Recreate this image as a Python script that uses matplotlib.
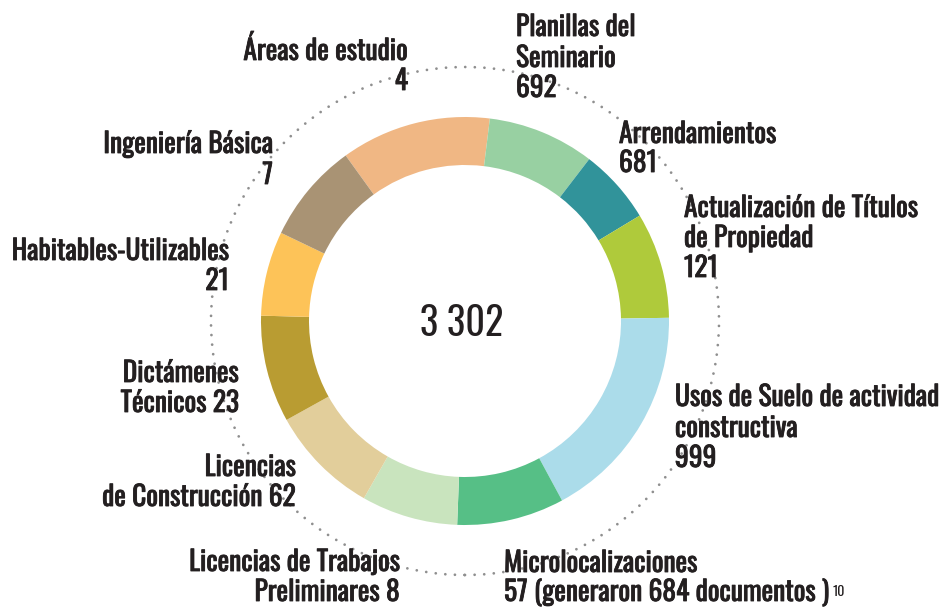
import matplotlib
matplotlib.use("Agg")
import matplotlib.pyplot as plt
from matplotlib import font_manager as fm
from matplotlib import patheffects as pe
from matplotlib.patches import Circle

W, H = 942, 607

# segment order, clockwise from the top-left
categories = [
    "Áreas de estudio", "Planillas del Seminario", "Arrendamientos",
    "Actualización de Títulos de Propiedad", "Usos de Suelo de actividad constructiva",
    "Microlocalizaciones", "Licencias de Trabajos Preliminares",
    "Licencias de Construcción", "Dictámenes Técnicos",
    "Habitables-Utilizables", "Ingeniería Básica",
]
counts = [4, 692, 681, 121, 999, 57, 8, 62, 23, 21, 7]
# arc sizes as drawn in the picture (degrees), not proportional to counts
arc_sizes = [42.8, 30.5, 21.4, 30.2, 62.5, 30.6, 27.5, 31.3, 30.5, 24.1, 28.6]
colors = ["#f0b784", "#98d0a2", "#31939a", "#afca3b", "#abdcea", "#56bf86",
          "#c9e4be", "#e2ce9b", "#b99c32", "#fdc358", "#a99374"]
total_label = "3 302"

names = {f.name for f in fm.fontManager.ttflist}
for fam in ["Oswald", "Fjalla One", "Roboto Condensed", "Archivo Narrow",
            "Asap Condensed", "DejaVu Sans"]:
    if fam in names:
        break
FONT = dict(family=fam)
TXT = "#231f20"
# Oswald here is a variable font, so thicken the labels slightly
BOLDER = [pe.withStroke(linewidth=0.6, foreground=TXT)]

fig = plt.figure(figsize=(W / 100, H / 100), dpi=100)
ax = fig.add_axes([0, 0, 1, 1])

cx, cy, R = 465, H - 321, 204
ax.pie(arc_sizes, colors=colors, startangle=125.8, counterclock=False,
       radius=R, center=(cx, cy), wedgeprops=dict(width=48, linewidth=0))

ring = Circle((cx, cy), 254, fill=False, edgecolor="#8f8f8f", linewidth=2.0,
              linestyle=(0, (0.01, 3.45)), zorder=0)
ring.set_capstyle("round")
ax.add_patch(ring)

ax.set_xlim(0, W)
ax.set_ylim(0, H)
ax.set_aspect("equal")
ax.axis("off")


def label(lines, x, baselines, ha, size=19.8):
    out = []
    for s, b in zip(lines, baselines):
        out.append(ax.text(x, H - b, s, ha=ha, va="baseline", fontsize=size,
                           color=TXT, path_effects=BOLDER, **FONT))
    return out


label(["Áreas de estudio", str(counts[0])], 408, [60, 90], "right")
label(["Planillas del", "Seminario", str(counts[1])], 516, [36, 67, 97], "left")
label(["Arrendamientos", str(counts[2])], 619, [143, 172], "left")
label(["Actualización de Títulos", "de Propiedad", str(counts[3])], 684,
      [217, 247, 277], "left")
label(["Usos de Suelo de actividad", "constructiva", str(counts[4])], 675,
      [406, 437, 467], "left")
micro = label(["Microlocalizaciones",
               f"{counts[5]} (generaron 684 documentos )"], 504, [572, 601], "left")
label(["Licencias de Trabajos", f"Preliminares {counts[6]}"], 400, [571, 601], "right")
label(["Licencias", f"de Construcción {counts[7]}"], 296, [476, 506], "right")
label(["Dictámenes", f"Técnicos {counts[8]}"], 239, [382, 412], "right")
label(["Habitables-Utilizables", str(counts[9])], 229, [260, 290], "right")
label(["Ingeniería Básica", str(counts[10])], 273, [153, 184], "right")

ax.annotate("10", xy=(1, 1), xycoords=micro[1], xytext=(2, -4),
            textcoords="offset points", ha="left", va="top", fontsize=10,
            color=TXT, **FONT)

ax.text(462, H - 336, total_label, ha="center", va="baseline", fontsize=27.5,
        color=TXT, **FONT)

fig.savefig("out.png", dpi=100)
